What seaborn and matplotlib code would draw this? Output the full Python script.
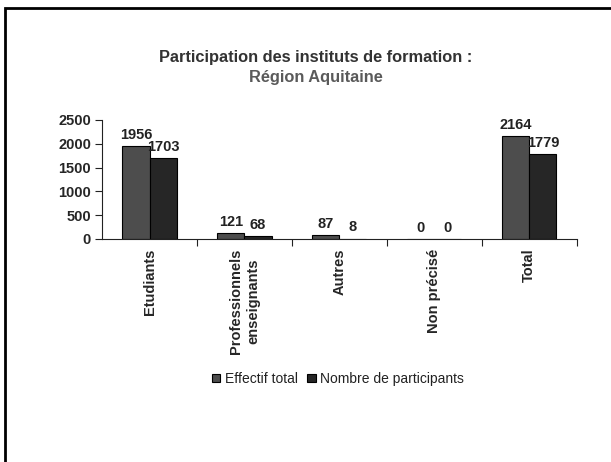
import pandas as pd
import matplotlib.pyplot as plt
import seaborn as sns
from matplotlib.patches import Rectangle

# data
categories = ['Etudiants', 'Professionnels\nenseignants', 'Autres', 'Non précisé', 'Total']
effectif_total = [1956, 121, 87, 0, 2164]
nb_participants = [1703, 68, 8, 0, 1779]
series = ['Effectif total', 'Nombre de participants']

df = pd.DataFrame({
    'categorie': categories * 2,
    'valeur': effectif_total + nb_participants,
    'serie': [series[0]] * len(categories) + [series[1]] * len(categories),
})

sns.set_theme(style='white')
plt.rcParams['font.family'] = ['Liberation Sans', 'DejaVu Sans']

fig = plt.figure(figsize=(6.11, 4.62), dpi=100)
ax = fig.add_axes([0.167, 0.4827, 0.777, 0.2576])

sns.barplot(data=df, x='categorie', y='valeur', hue='serie',
            palette=['#4d4d4d', '#262626'], edgecolor='black', linewidth=0.8,
            width=0.57, gap=0, ax=ax, legend=True)

for cont in ax.containers:
    ax.bar_label(cont, fmt='%d', padding=3, fontsize=10.5, fontweight='bold', color='#222222')

ax.set_ylim(0, 2500)
ax.set_xlim(-0.5, 4.5)
ax.set_yticks([0, 500, 1000, 1500, 2000, 2500])
ax.set_xlabel('')
ax.set_ylabel('')
for s in ['top', 'right']:
    ax.spines[s].set_visible(False)
for s in ['left', 'bottom']:
    ax.spines[s].set_color('#222222')
    ax.spines[s].set_linewidth(0.8)

ax.tick_params(axis='y', left=True, length=5, width=0.8, labelsize=10.5, color='#222222', pad=3)
for lab in ax.get_yticklabels():
    lab.set_fontweight('bold')
ax.set_xticks(range(len(categories)))
ax.set_xticklabels(categories, rotation=90, fontsize=10.5, fontweight='bold',
                   linespacing=1.35, va='top', ha='center', multialignment='center')
ax.tick_params(axis='x', bottom=False, pad=1)
# tick marks between categories, as in the original
ax.set_xticks([i + 0.5 for i in range(len(categories))], minor=True)
ax.tick_params(axis='x', which='minor', bottom=True, length=5, width=0.8, color='#222222')

fig.text(0.517, 0.875, 'Participation des instituts de formation :', ha='center', va='center',
         fontsize=11.8, fontweight='bold', color='#333333')
fig.text(0.517, 0.832, 'Région Aquitaine', ha='center', va='center',
         fontsize=11.8, fontweight='bold', color='#5a5a5a')

ax.legend(loc='center', bbox_to_anchor=(0.553, 0.180), bbox_transform=fig.transFigure,
          ncol=2, frameon=False, fontsize=10, handlelength=0.6, handleheight=0.6,
          handletextpad=0.3, columnspacing=0.7, labelcolor='#222222')

# outer frame of the chart area
fig.patches.append(Rectangle((0.008, -0.1), 1.1, 1.083, transform=fig.transFigure,
                             fill=False, edgecolor='black', linewidth=2))

fig.savefig('out.png', dpi=100)
